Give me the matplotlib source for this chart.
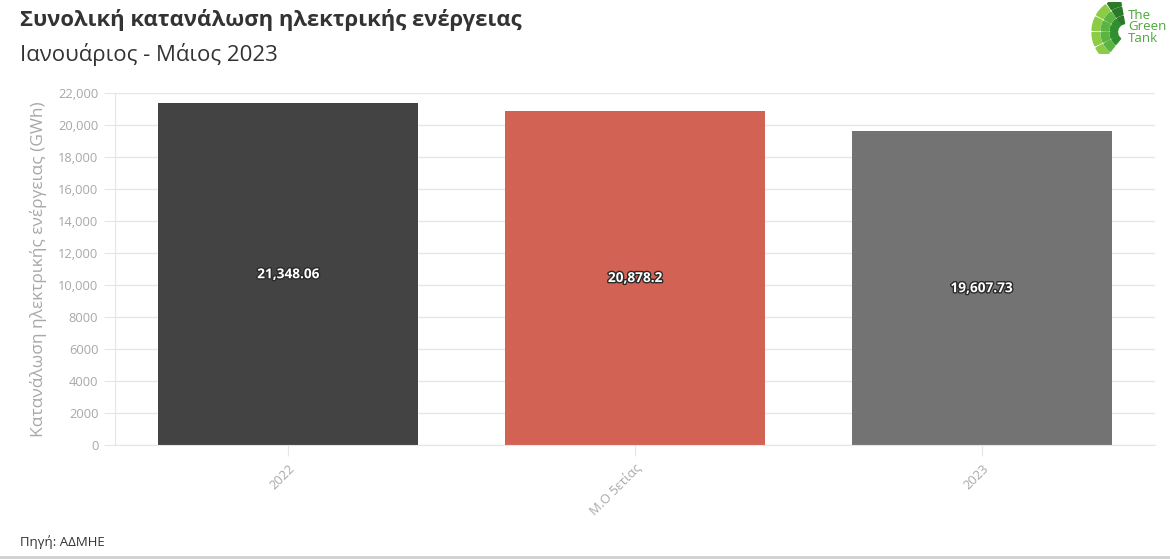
import matplotlib.pyplot as plt
import matplotlib.patheffects as pe
from matplotlib.ticker import FuncFormatter
from matplotlib.patches import Wedge

plt.rcParams['font.family'] = ['Open Sans', 'DejaVu Sans']

categories = ['2022', 'Μ.Ο 5ετίας', '2023']
values = [21348.06, 20878.2, 19607.73]
value_labels = ['21,348.06', '20,878.2', '19,607.73']
colors = ['#434343', '#d26253', '#737373']

fig = plt.figure(figsize=(11.7, 5.59), dpi=100)
ax = fig.add_axes([115 / 1170, 1 - 445 / 559, 1040 / 1170, 352 / 559])

x = range(len(categories))
bars = ax.bar(x, values, width=0.75, color=colors, zorder=2)

for b, lab in zip(bars, value_labels):
    ax.text(b.get_x() + b.get_width() / 2, b.get_height() / 2, lab,
            ha='center', va='center', color='white', fontsize=9.8, fontweight='bold',
            path_effects=[pe.withStroke(linewidth=2, foreground='#2a2a2a')], zorder=3)

ax.set_xlim(-0.5, 2.5)
ax.set_ylim(0, 22000)
ax.set_yticks(range(0, 22001, 2000))


def fmt(v, pos):
    v = int(v)
    return f'{v:,}' if v >= 10000 else str(v)


ax.yaxis.set_major_formatter(FuncFormatter(fmt))
ax.set_xticks(list(x))
ax.set_xticklabels(categories, rotation=45, ha='right', rotation_mode='anchor')
ax.grid(axis='y', color='#e6e6e6', linewidth=1, zorder=0)
for s in ['top', 'right']:
    ax.spines[s].set_visible(False)
ax.spines['left'].set_color('#e6e6e6')
ax.spines['bottom'].set_color('#e6e6e6')
ax.tick_params(axis='y', colors='#e6e6e6', labelcolor='#a8a8a8', labelsize=9.3, length=8, pad=4)
ax.tick_params(axis='x', colors='#e6e6e6', labelcolor='#a8a8a8', labelsize=9.3, length=8, pad=4)
ax.set_ylabel('Κατανάλωση ηλεκτρικής ενέργειας (GWh)', color='#a8a8a8', fontsize=12.5, labelpad=8)

fig.text(20 / 1170, 1 - 20 / 559, 'Συνολική κατανάλωση ηλεκτρικής ενέργειας',
         fontsize=15.8, fontweight='bold', color='#333333', va='center')
fig.text(20 / 1170, 1 - 54 / 559, 'Ιανουάριος - Μάιος 2023',
         fontsize=16, color='#333333', va='center')
fig.text(20 / 1170, 1 - 542 / 559, 'Πηγή: ΑΔΜΗΕ', fontsize=9.5, color='#333333', va='center')

# bottom separator line
fig.add_artist(plt.Line2D([0, 1], [2 / 559, 2 / 559], color='#d0d0d0', linewidth=2))

# logo
lax = fig.add_axes([1088 / 1170, 1 - 54 / 559, 40 / 1170, 52 / 559])
lax.set_xlim(0, 40)
lax.set_ylim(0, 52)
lax.axis('off')
ring_colors = ['#8ccc45', '#5cb440', '#2f8f2f']
for i, r in enumerate([34, 25, 16]):
    for j in range(5):
        a0 = 100 + j * 27
        lax.add_patch(Wedge((38, 22), r, a0, a0 + 23, width=7.5,
                            color=ring_colors[i] if j > 0 else '#2a7a2a'))
fig.text(1128 / 1170, 1 - 27 / 559, 'The\nGreen\nTank', fontsize=9.5, color='#4aa83a',
         va='center', ha='left', linespacing=0.85)

fig.savefig('out.png', dpi=100)
